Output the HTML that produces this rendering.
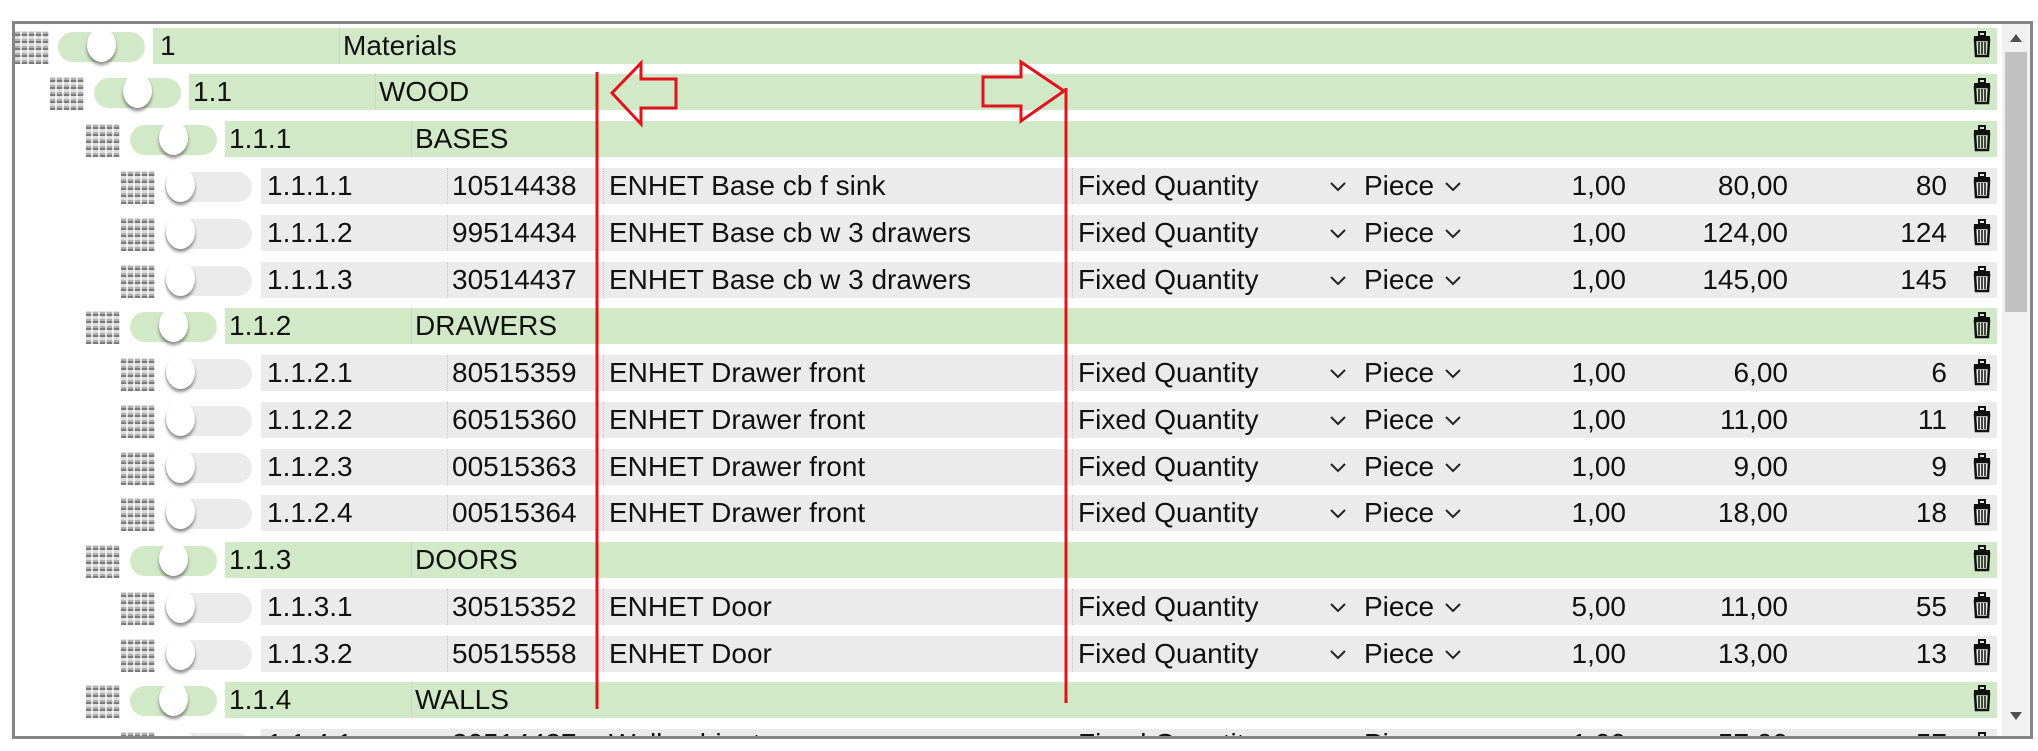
<!DOCTYPE html>
<html><head><meta charset="utf-8">
<style>
body{margin:0;width:2038px;height:751px;background:#fff;position:relative;overflow:hidden;font-family:"Liberation Sans",sans-serif;}
#box{position:absolute;left:12px;top:21px;width:2021px;height:718px;border:3px solid #858585;box-sizing:border-box;overflow:hidden;background:#fff}
#in{position:absolute;left:-15px;top:-24px;width:2038px;height:751px}
.a{position:absolute}
.t{position:absolute;font-size:28px;line-height:36px;color:#111;white-space:nowrap}
.r{text-align:right}
.g{position:absolute;height:36px;background:#d2e9c8}
.gy{position:absolute;height:36px;background:#ebebeb}
.h{position:absolute;width:34px;height:33px;background:
repeating-linear-gradient(90deg,transparent 0 5px,rgba(255,255,255,.7) 5px 7px),
repeating-linear-gradient(0deg,#7a7a7a 0 2px,#b0b0b0 2px 4px,#dedede 4px 7px);}
.tg{position:absolute;width:87px;height:30px;border-radius:15px}
.kn{position:absolute;width:29px;height:34px;border-radius:50%;background:#fff;box-shadow:0 3px 3px rgba(0,0,0,.45)}
.sep{position:absolute;width:0;height:36px;border-left:1px dotted #c8c8c8}
</style></head><body>
<div id="box"><div id="in">

<div class="a" style="left:2002px;top:24px;width:28px;height:714px;background:#f1f1f1"></div>
<div class="a" style="left:2005px;top:52px;width:22px;height:260px;background:#c1c1c1"></div>
<svg class="a" style="left:2008px;top:32px" width="16" height="12"><polygon points="8,2 14,10 2,10" fill="#505050"/></svg>
<svg class="a" style="left:2008px;top:710px" width="16" height="12"><polygon points="2,2 14,2 8,10" fill="#505050"/></svg>

<div class="h" style="left:15px;top:31px"></div>
<div class="tg" style="left:58px;top:32px;background:#d2e9c8"></div><div class="kn" style="left:87px;top:28px"></div>
<div class="g" style="left:153px;top:28px;width:1844px"></div><div class="sep" style="left:339px;top:28px"></div>
<div class="t" style="left:160px;top:28px">1</div><div class="t" style="left:343px;top:28px">Materials</div>

<div class="h" style="left:50px;top:77px"></div>
<div class="tg" style="left:94px;top:78px;background:#d2e9c8"></div><div class="kn" style="left:123px;top:74px"></div>
<div class="g" style="left:189px;top:74px;width:1808px"></div><div class="sep" style="left:375px;top:74px"></div>
<div class="t" style="left:193px;top:74px">1.1</div><div class="t" style="left:379px;top:74px">WOOD</div>

<div class="h" style="left:86px;top:124px"></div>
<div class="tg" style="left:130px;top:125px;background:#d2e9c8"></div><div class="kn" style="left:159px;top:121px"></div>
<div class="g" style="left:225px;top:121px;width:1772px"></div><div class="sep" style="left:411px;top:121px"></div>
<div class="t" style="left:229px;top:121px">1.1.1</div><div class="t" style="left:415px;top:121px">BASES</div>

<div class="h" style="left:121px;top:171px"></div><div class="tg" style="left:165px;top:172px;background:#ebebeb"></div><div class="kn" style="left:166px;top:168px"></div>
<div class="gy" style="left:261px;top:168px;width:1736px"></div><div class="sep" style="left:447px;top:168px"></div><div class="sep" style="left:603px;top:168px"></div><div class="sep" style="left:1072px;top:168px"></div>
<div class="t" style="left:267px;top:168px">1.1.1.1</div><div class="t" style="left:452px;top:168px">10514438</div><div class="t" style="left:609px;top:168px">ENHET Base cb f sink</div>
<div class="t" style="left:1078px;top:168px">Fixed Quantity</div><div class="t" style="left:1364px;top:168px">Piece</div>
<div class="t r" style="left:1500px;width:126px;top:168px">1,00</div><div class="t r" style="left:1650px;width:138px;top:168px">80,00</div><div class="t r" style="left:1820px;width:127px;top:168px">80</div>

<div class="h" style="left:121px;top:218px"></div><div class="tg" style="left:165px;top:219px;background:#ebebeb"></div><div class="kn" style="left:166px;top:215px"></div>
<div class="gy" style="left:261px;top:215px;width:1736px"></div><div class="sep" style="left:447px;top:215px"></div><div class="sep" style="left:603px;top:215px"></div><div class="sep" style="left:1072px;top:215px"></div>
<div class="t" style="left:267px;top:215px">1.1.1.2</div><div class="t" style="left:452px;top:215px">99514434</div><div class="t" style="left:609px;top:215px">ENHET Base cb w 3 drawers</div>
<div class="t" style="left:1078px;top:215px">Fixed Quantity</div><div class="t" style="left:1364px;top:215px">Piece</div>
<div class="t r" style="left:1500px;width:126px;top:215px">1,00</div><div class="t r" style="left:1650px;width:138px;top:215px">124,00</div><div class="t r" style="left:1820px;width:127px;top:215px">124</div>

<div class="h" style="left:121px;top:265px"></div><div class="tg" style="left:165px;top:266px;background:#ebebeb"></div><div class="kn" style="left:166px;top:262px"></div>
<div class="gy" style="left:261px;top:262px;width:1736px"></div><div class="sep" style="left:447px;top:262px"></div><div class="sep" style="left:603px;top:262px"></div><div class="sep" style="left:1072px;top:262px"></div>
<div class="t" style="left:267px;top:262px">1.1.1.3</div><div class="t" style="left:452px;top:262px">30514437</div><div class="t" style="left:609px;top:262px">ENHET Base cb w 3 drawers</div>
<div class="t" style="left:1078px;top:262px">Fixed Quantity</div><div class="t" style="left:1364px;top:262px">Piece</div>
<div class="t r" style="left:1500px;width:126px;top:262px">1,00</div><div class="t r" style="left:1650px;width:138px;top:262px">145,00</div><div class="t r" style="left:1820px;width:127px;top:262px">145</div>

<div class="h" style="left:86px;top:311px"></div>
<div class="tg" style="left:130px;top:312px;background:#d2e9c8"></div><div class="kn" style="left:159px;top:308px"></div>
<div class="g" style="left:225px;top:308px;width:1772px"></div><div class="sep" style="left:411px;top:308px"></div>
<div class="t" style="left:229px;top:308px">1.1.2</div><div class="t" style="left:415px;top:308px">DRAWERS</div>

<div class="h" style="left:121px;top:358px"></div><div class="tg" style="left:165px;top:359px;background:#ebebeb"></div><div class="kn" style="left:166px;top:355px"></div>
<div class="gy" style="left:261px;top:355px;width:1736px"></div><div class="sep" style="left:447px;top:355px"></div><div class="sep" style="left:603px;top:355px"></div><div class="sep" style="left:1072px;top:355px"></div>
<div class="t" style="left:267px;top:355px">1.1.2.1</div><div class="t" style="left:452px;top:355px">80515359</div><div class="t" style="left:609px;top:355px">ENHET Drawer front</div>
<div class="t" style="left:1078px;top:355px">Fixed Quantity</div><div class="t" style="left:1364px;top:355px">Piece</div>
<div class="t r" style="left:1500px;width:126px;top:355px">1,00</div><div class="t r" style="left:1650px;width:138px;top:355px">6,00</div><div class="t r" style="left:1820px;width:127px;top:355px">6</div>

<div class="h" style="left:121px;top:405px"></div><div class="tg" style="left:165px;top:406px;background:#ebebeb"></div><div class="kn" style="left:166px;top:402px"></div>
<div class="gy" style="left:261px;top:402px;width:1736px"></div><div class="sep" style="left:447px;top:402px"></div><div class="sep" style="left:603px;top:402px"></div><div class="sep" style="left:1072px;top:402px"></div>
<div class="t" style="left:267px;top:402px">1.1.2.2</div><div class="t" style="left:452px;top:402px">60515360</div><div class="t" style="left:609px;top:402px">ENHET Drawer front</div>
<div class="t" style="left:1078px;top:402px">Fixed Quantity</div><div class="t" style="left:1364px;top:402px">Piece</div>
<div class="t r" style="left:1500px;width:126px;top:402px">1,00</div><div class="t r" style="left:1650px;width:138px;top:402px">11,00</div><div class="t r" style="left:1820px;width:127px;top:402px">11</div>

<div class="h" style="left:121px;top:452px"></div><div class="tg" style="left:165px;top:453px;background:#ebebeb"></div><div class="kn" style="left:166px;top:449px"></div>
<div class="gy" style="left:261px;top:449px;width:1736px"></div><div class="sep" style="left:447px;top:449px"></div><div class="sep" style="left:603px;top:449px"></div><div class="sep" style="left:1072px;top:449px"></div>
<div class="t" style="left:267px;top:449px">1.1.2.3</div><div class="t" style="left:452px;top:449px">00515363</div><div class="t" style="left:609px;top:449px">ENHET Drawer front</div>
<div class="t" style="left:1078px;top:449px">Fixed Quantity</div><div class="t" style="left:1364px;top:449px">Piece</div>
<div class="t r" style="left:1500px;width:126px;top:449px">1,00</div><div class="t r" style="left:1650px;width:138px;top:449px">9,00</div><div class="t r" style="left:1820px;width:127px;top:449px">9</div>

<div class="h" style="left:121px;top:498px"></div><div class="tg" style="left:165px;top:499px;background:#ebebeb"></div><div class="kn" style="left:166px;top:495px"></div>
<div class="gy" style="left:261px;top:495px;width:1736px"></div><div class="sep" style="left:447px;top:495px"></div><div class="sep" style="left:603px;top:495px"></div><div class="sep" style="left:1072px;top:495px"></div>
<div class="t" style="left:267px;top:495px">1.1.2.4</div><div class="t" style="left:452px;top:495px">00515364</div><div class="t" style="left:609px;top:495px">ENHET Drawer front</div>
<div class="t" style="left:1078px;top:495px">Fixed Quantity</div><div class="t" style="left:1364px;top:495px">Piece</div>
<div class="t r" style="left:1500px;width:126px;top:495px">1,00</div><div class="t r" style="left:1650px;width:138px;top:495px">18,00</div><div class="t r" style="left:1820px;width:127px;top:495px">18</div>

<div class="h" style="left:86px;top:545px"></div>
<div class="tg" style="left:130px;top:546px;background:#d2e9c8"></div><div class="kn" style="left:159px;top:542px"></div>
<div class="g" style="left:225px;top:542px;width:1772px"></div><div class="sep" style="left:411px;top:542px"></div>
<div class="t" style="left:229px;top:542px">1.1.3</div><div class="t" style="left:415px;top:542px">DOORS</div>

<div class="h" style="left:121px;top:592px"></div><div class="tg" style="left:165px;top:593px;background:#ebebeb"></div><div class="kn" style="left:166px;top:589px"></div>
<div class="gy" style="left:261px;top:589px;width:1736px"></div><div class="sep" style="left:447px;top:589px"></div><div class="sep" style="left:603px;top:589px"></div><div class="sep" style="left:1072px;top:589px"></div>
<div class="t" style="left:267px;top:589px">1.1.3.1</div><div class="t" style="left:452px;top:589px">30515352</div><div class="t" style="left:609px;top:589px">ENHET Door</div>
<div class="t" style="left:1078px;top:589px">Fixed Quantity</div><div class="t" style="left:1364px;top:589px">Piece</div>
<div class="t r" style="left:1500px;width:126px;top:589px">5,00</div><div class="t r" style="left:1650px;width:138px;top:589px">11,00</div><div class="t r" style="left:1820px;width:127px;top:589px">55</div>

<div class="h" style="left:121px;top:639px"></div><div class="tg" style="left:165px;top:640px;background:#ebebeb"></div><div class="kn" style="left:166px;top:636px"></div>
<div class="gy" style="left:261px;top:636px;width:1736px"></div><div class="sep" style="left:447px;top:636px"></div><div class="sep" style="left:603px;top:636px"></div><div class="sep" style="left:1072px;top:636px"></div>
<div class="t" style="left:267px;top:636px">1.1.3.2</div><div class="t" style="left:452px;top:636px">50515558</div><div class="t" style="left:609px;top:636px">ENHET Door</div>
<div class="t" style="left:1078px;top:636px">Fixed Quantity</div><div class="t" style="left:1364px;top:636px">Piece</div>
<div class="t r" style="left:1500px;width:126px;top:636px">1,00</div><div class="t r" style="left:1650px;width:138px;top:636px">13,00</div><div class="t r" style="left:1820px;width:127px;top:636px">13</div>

<div class="h" style="left:86px;top:685px"></div>
<div class="tg" style="left:130px;top:686px;background:#d2e9c8"></div><div class="kn" style="left:159px;top:682px"></div>
<div class="g" style="left:225px;top:682px;width:1772px"></div><div class="sep" style="left:411px;top:682px"></div>
<div class="t" style="left:229px;top:682px">1.1.4</div><div class="t" style="left:415px;top:682px">WALLS</div>

<div class="h" style="left:121px;top:732px"></div><div class="tg" style="left:165px;top:733px;background:#ebebeb"></div><div class="kn" style="left:166px;top:729px"></div>
<div class="gy" style="left:261px;top:729px;width:1736px"></div>
<div class="t" style="left:267px;top:726px">1.1.4.1</div><div class="t" style="left:452px;top:726px">30514437</div><div class="t" style="left:609px;top:726px">Wall cabinet</div>
<div class="t" style="left:1078px;top:726px">Fixed Quantity</div><div class="t" style="left:1364px;top:726px">Piece</div>
<div class="t r" style="left:1500px;width:126px;top:726px">1,00</div><div class="t r" style="left:1650px;width:138px;top:726px">57,00</div><div class="t r" style="left:1820px;width:127px;top:726px">57</div>

<svg class="a" style="left:0;top:0" width="2038" height="751">
<defs>
<g id="tr"><rect x="-8" y="-8" width="16" height="3" fill="#111"/><rect x="-3" y="-12" width="6" height="4" fill="none" stroke="#111" stroke-width="2"/><path d="M-7,-4 h14 l-1,16 h-12 z" fill="none" stroke="#111" stroke-width="2.5"/><path d="M-3,-2 v12 M0,-2 v12 M3,-2 v12" stroke="#111" stroke-width="1.5"/></g>
<g id="cv"><polyline points="-7,-3 0,4 7,-3" fill="none" stroke="#222" stroke-width="2"/></g>
</defs>
<g>
<use href="#tr" x="1982" y="44"/><use href="#tr" x="1982" y="91"/><use href="#tr" x="1982" y="138"/>
<use href="#tr" x="1982" y="185"/><use href="#tr" x="1982" y="232"/><use href="#tr" x="1982" y="279"/>
<use href="#tr" x="1982" y="325"/><use href="#tr" x="1982" y="372"/><use href="#tr" x="1982" y="419"/>
<use href="#tr" x="1982" y="466"/><use href="#tr" x="1982" y="512"/><use href="#tr" x="1982" y="558"/>
<use href="#tr" x="1982" y="605"/><use href="#tr" x="1982" y="652"/><use href="#tr" x="1982" y="698"/><use href="#tr" x="1982" y="745"/>
</g>
<g>
<use href="#cv" x="1338" y="186"/><use href="#cv" x="1453" y="186"/>
<use href="#cv" x="1338" y="233"/><use href="#cv" x="1453" y="233"/>
<use href="#cv" x="1338" y="280"/><use href="#cv" x="1453" y="280"/>
<use href="#cv" x="1338" y="373"/><use href="#cv" x="1453" y="373"/>
<use href="#cv" x="1338" y="420"/><use href="#cv" x="1453" y="420"/>
<use href="#cv" x="1338" y="467"/><use href="#cv" x="1453" y="467"/>
<use href="#cv" x="1338" y="513"/><use href="#cv" x="1453" y="513"/>
<use href="#cv" x="1338" y="607"/><use href="#cv" x="1453" y="607"/>
<use href="#cv" x="1338" y="654"/><use href="#cv" x="1453" y="654"/>
<use href="#cv" x="1338" y="744"/><use href="#cv" x="1453" y="744"/>
</g>
<line x1="597" y1="72" x2="597" y2="709" stroke="#e0141c" stroke-width="3"/>
<line x1="1066" y1="88" x2="1066" y2="703" stroke="#e0141c" stroke-width="3"/>
<polygon points="612,93 641,63 641,79 676,79 676,108 641,108 641,124" fill="none" stroke="#e0141c" stroke-width="3"/>
<polygon points="1064,91 1021,62 1021,77 983,77 983,106 1021,106 1021,121" fill="none" stroke="#e0141c" stroke-width="3"/>
</svg>

</div></div>
</body></html>
